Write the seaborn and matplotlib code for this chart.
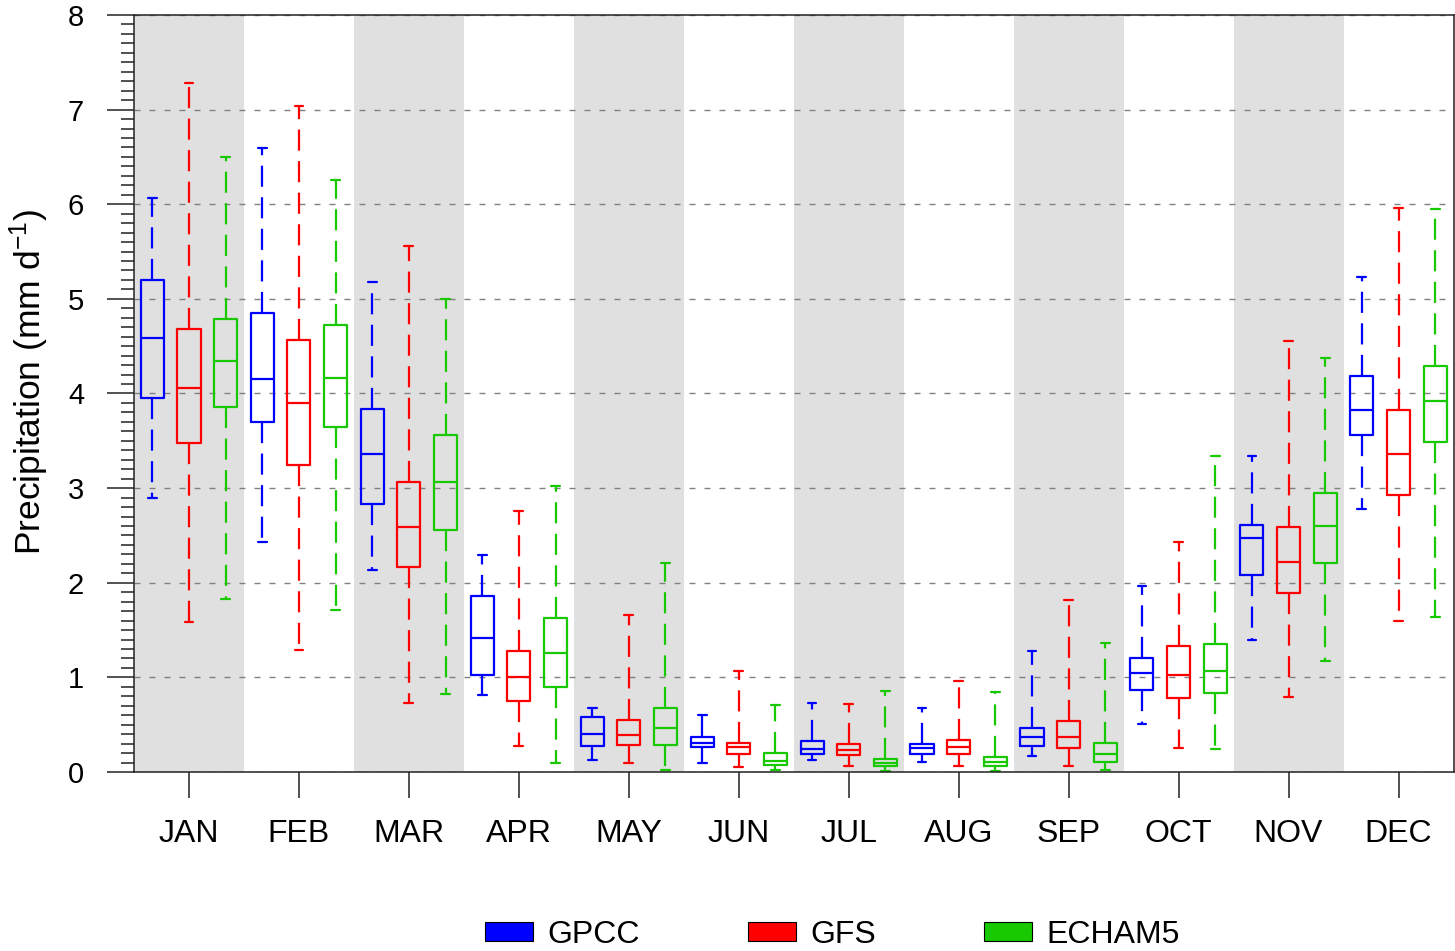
import numpy as np
import pandas as pd
import matplotlib
matplotlib.use("Agg")
import matplotlib.pyplot as plt
from matplotlib.patches import Patch
from matplotlib.ticker import MultipleLocator
import seaborn as sns

months = ["JAN", "FEB", "MAR", "APR", "MAY", "JUN", "JUL", "AUG", "SEP", "OCT", "NOV", "DEC"]
sources = ["GPCC", "GFS", "ECHAM5"]
colors = ["#0000ff", "#ff0000", "#18c800"]

# box statistics (whisker low, Q1, median, Q3, whisker high)
gpcc_lo  = [2.90, 2.43, 2.13, 0.81, 0.13, 0.09, 0.13, 0.11, 0.17, 0.51, 1.39, 2.78]
gpcc_q1  = [3.95, 3.70, 2.83, 1.02, 0.28, 0.26, 0.19, 0.19, 0.28, 0.87, 2.08, 3.56]
gpcc_med = [4.59, 4.15, 3.36, 1.42, 0.40, 0.31, 0.24, 0.25, 0.37, 1.05, 2.47, 3.83]
gpcc_q3  = [5.20, 4.85, 3.84, 1.86, 0.58, 0.37, 0.33, 0.30, 0.47, 1.20, 2.61, 4.19]
gpcc_hi  = [6.07, 6.59, 5.18, 2.29, 0.68, 0.60, 0.73, 0.68, 1.28, 1.97, 3.34, 5.23]

gfs_lo  = [1.59, 1.29, 0.73, 0.27, 0.10, 0.05, 0.06, 0.06, 0.06, 0.25, 0.79, 1.60]
gfs_q1  = [3.48, 3.24, 2.17, 0.75, 0.29, 0.19, 0.18, 0.19, 0.25, 0.78, 1.89, 2.93]
gfs_med = [4.06, 3.90, 2.59, 1.00, 0.39, 0.26, 0.23, 0.26, 0.37, 1.03, 2.22, 3.36]
gfs_q3  = [4.68, 4.57, 3.07, 1.28, 0.55, 0.31, 0.30, 0.34, 0.54, 1.33, 2.59, 3.83]
gfs_hi  = [7.28, 7.04, 5.56, 2.76, 1.66, 1.07, 0.72, 0.96, 1.82, 2.43, 4.56, 5.96]

echam_lo  = [1.83, 1.71, 0.82, 0.10, 0.02, 0.02, 0.01, 0.01, 0.02, 0.24, 1.17, 1.64]
echam_q1  = [3.86, 3.65, 2.56, 0.90, 0.29, 0.07, 0.06, 0.06, 0.11, 0.83, 2.21, 3.49]
echam_med = [4.34, 4.16, 3.06, 1.26, 0.46, 0.12, 0.10, 0.11, 0.19, 1.07, 2.60, 3.92]
echam_q3  = [4.79, 4.72, 3.56, 1.63, 0.68, 0.20, 0.14, 0.16, 0.31, 1.35, 2.95, 4.29]
echam_hi  = [6.50, 6.26, 5.00, 3.02, 2.21, 0.71, 0.86, 0.85, 1.36, 3.34, 4.38, 5.95]

yticks = [0, 1, 2, 3, 4, 5, 6, 7, 8]

series = {
    "GPCC": [gpcc_lo, gpcc_q1, gpcc_med, gpcc_q3, gpcc_hi],
    "GFS": [gfs_lo, gfs_q1, gfs_med, gfs_q3, gfs_hi],
    "ECHAM5": [echam_lo, echam_q1, echam_med, echam_q3, echam_hi],
}
rows = []
for src in sources:
    for stat in series[src]:
        for m, v in zip(months, stat):
            rows.append({"month": m, "source": src, "value": v})
df = pd.DataFrame(rows)

sns.set_style("white")
plt.rcParams["font.family"] = ["Liberation Sans", "DejaVu Sans"]
plt.rcParams["mathtext.default"] = "regular"
for k in ["text.color", "axes.labelcolor", "xtick.color", "ytick.color"]:
    plt.rcParams[k] = "black"

W, H = 1455, 951
fig = plt.figure(figsize=(W / 100, H / 100), dpi=100)
ax = fig.add_axes([134 / W, (H - 772) / H, 1319.5 / W, 757 / H])

for i in range(0, 12, 2):
    ax.axvspan(i - 0.5, i + 0.5, color="#e0e0e0", lw=0, zorder=0)

sns.boxplot(
    data=df, x="month", y="value", hue="source",
    order=months, hue_order=sources, palette=colors,
    fill=False, width=1.0, gap=0.37, whis=(0, 100),
    linewidth=1.6, whiskerprops=dict(linestyle=(0, (9.5, 4.7))),
    capwidths=0.08, legend=False, ax=ax,
)

ax.set_xlim(-0.5, 11.5)
ax.set_ylim(0, 8)
ax.set_yticks(yticks)
ax.yaxis.set_minor_locator(MultipleLocator(0.1))
ax.set_axisbelow(True)
ax.yaxis.grid(True, which="major", linestyle=(0, (4.3, 6.5)), color="#808080", lw=1.0)
ax.xaxis.grid(False)

for s in ax.spines.values():
    s.set_visible(True)
    s.set_color("#222222")
    s.set_linewidth(1.1)

ax.tick_params(axis="y", which="major", direction="out", length=19.4, width=1.1,
               color="#222222", labelcolor="black", labelsize=21, pad=16.5, left=True)
ax.tick_params(axis="y", which="minor", direction="out", length=9.5, width=1.1,
               color="#222222", left=True)
ax.tick_params(axis="x", which="major", direction="out", length=18.7, width=1.1,
               color="#222222", labelcolor="black", labelsize=23, pad=15, bottom=True)
ax.tick_params(axis="x", which="minor", bottom=False)

ax.set_xlabel("")
ax.set_ylabel(r"Precipitation (mm d$^{-1}$)", fontsize=25.5, color="black")
ax.yaxis.set_label_coords(-0.063, 0.515)

handles = [Patch(facecolor=c, edgecolor="black", lw=0.8, label=s) for c, s in zip(colors, sources)]
fig.legend(handles=handles, loc="center left", bbox_to_anchor=(485 / W, 16 / H),
           ncol=3, frameon=False, fontsize=23, handlelength=1.5, handleheight=0.56,
           handletextpad=0.44, columnspacing=3.4, borderpad=0, borderaxespad=0)

fig.savefig("out.png", dpi=100)
